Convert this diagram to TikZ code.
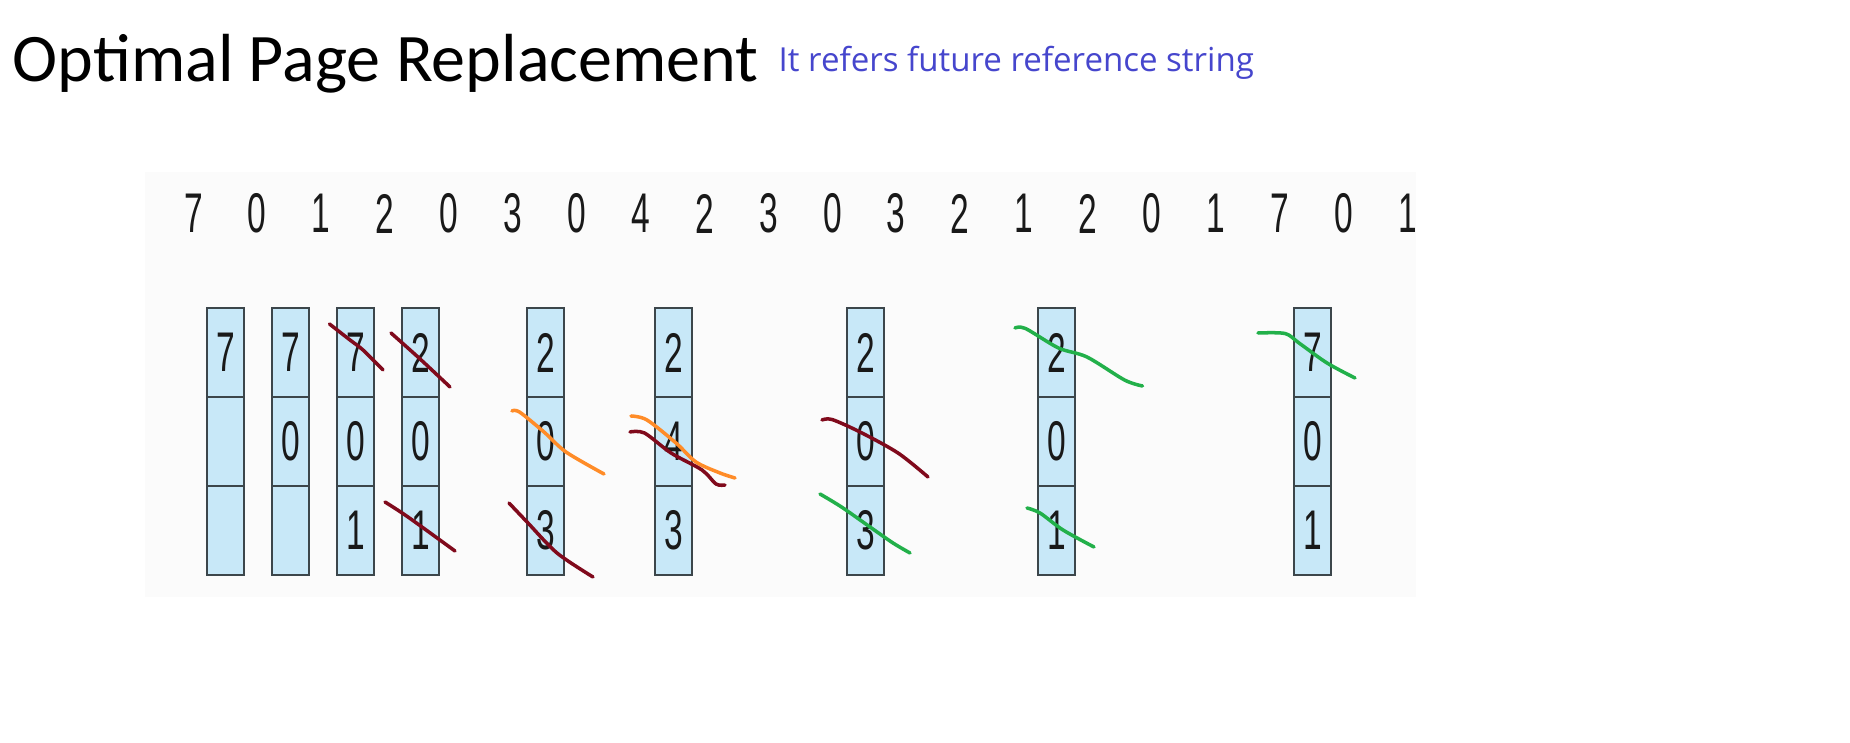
\documentclass[tikz,border=0pt]{standalone}
\usepackage{fontspec}
\setmainfont{Carlito}
\newfontfamily\digitfont{Liberation Sans}
\newfontfamily\subfont{Open Sans}
\newcommand\dg[1]{\scalebox{0.6}[1]{#1}}
\definecolor{subblue}{RGB}{70,70,205}
\definecolor{imgbg}{RGB}{251,251,251}
\definecolor{cellfill}{RGB}{200,232,248}
\definecolor{cellline}{RGB}{60,70,75}
\definecolor{digitcol}{RGB}{25,25,25}
\definecolor{strokered}{RGB}{128,10,28}
\definecolor{strokeorange}{RGB}{255,140,40}
\definecolor{strokegreen}{RGB}{34,176,74}
\tikzset{
  refdigit/.style={inner sep=0pt, text=digitcol, font=\digitfont\fontsize{15.9pt}{18pt}\selectfont},
  cell/.style={draw=cellline, line width=0.65pt, fill=cellfill, rectangle,
    minimum width=0.37cm, minimum height=0.89cm, inner sep=0pt, text=digitcol,
    font=\digitfont\fontsize{15.9pt}{18pt}\selectfont},
  pen/.style={line width=1pt, line cap=round, line join=round},
}
\begin{document}
\begin{tikzpicture}[x=0.01cm, y=-0.01cm]
\useasboundingbox[fill=white] (0,0) rectangle (1850,743);
% title and subtitle
\node[anchor=base west, inner sep=0pt, font=\fontsize{19.35pt}{24pt}\selectfont] (title) at (12,82) {Optimal Page Replacement};
\node[anchor=base west, inner sep=0pt, text=subblue, font=\subfont\fontsize{9.4pt}{12pt}\selectfont] (sub) at (778,71.7) {It refers future reference string};
% image background
\fill[imgbg] (145,172) rectangle (1416,597);
% reference string
\foreach \d [count=\i from 0] in {7,0,1,2,0,3,0,4,2,3,0,3,2,1,2,0,1,7,0,1}
  \node[refdigit] (r\i) at ({193.4+63.9*\i},213.5) {\dg{\d}};
% frames
\foreach \x/\a/\b/\c [count=\k] in {225.4/7/{}/{}, 290.7/7/0/{}, 355.5/7/0/1, 420.7/2/0/1,
    545.8/2/0/3, 673.7/2/4/3, 865.5/2/0/3, 1056.7/2/0/1, 1312.7/7/0/1}{
  \node[cell] (f\k a) at (\x,352.5) {\dg{\a}};
  \node[cell] (f\k b) at (\x,441.5) {\dg{\b}};
  \node[cell] (f\k c) at (\x,530.5) {\dg{\c}};
}
% hand-drawn strokes
\draw[pen, strokered] plot[smooth] coordinates {(329.5,324) (350,340) (363,350) (383,370)};
\draw[pen, strokered] plot[smooth] coordinates {(391,333) (419,358) (450,387)};
\draw[pen, strokered] plot[smooth] coordinates {(385,502) (408,517) (455,551)};
\draw[pen, strokeorange] plot[smooth] coordinates {(512,411) (519.5,412) (544,432) (566,452) (604,474)};
\draw[pen, strokered] plot[smooth] coordinates {(509,503) (528,523) (557,553) (593,577)};
\draw[pen, strokeorange] plot[smooth] coordinates {(631,416) (647,420) (676,443) (696,462) (720,473) (735,478)};
\draw[pen, strokered] plot[smooth] coordinates {(630,432) (644.5,433) (671,453) (702,470) (716,484) (725,485)};
\draw[pen, strokered] plot[smooth] coordinates {(822,420) (832,419.5) (860,432) (898,453) (928,477)};
\draw[pen, strokegreen] plot[smooth] coordinates {(820,494) (841.5,507) (870,527) (893,543) (910,553)};
\draw[pen, strokegreen] plot[smooth] coordinates {(1015,328) (1025.5,328.5) (1058.5,348) (1087,357) (1124.5,380) (1142.5,386)};
\draw[pen, strokegreen] plot[smooth] coordinates {(1027,508) (1040,513) (1063,530) (1094,547)};
\draw[pen, strokegreen] plot[smooth] coordinates {(1258,333) (1285,333.5) (1299,343) (1327,363) (1355,378)};
\end{tikzpicture}
\end{document}
